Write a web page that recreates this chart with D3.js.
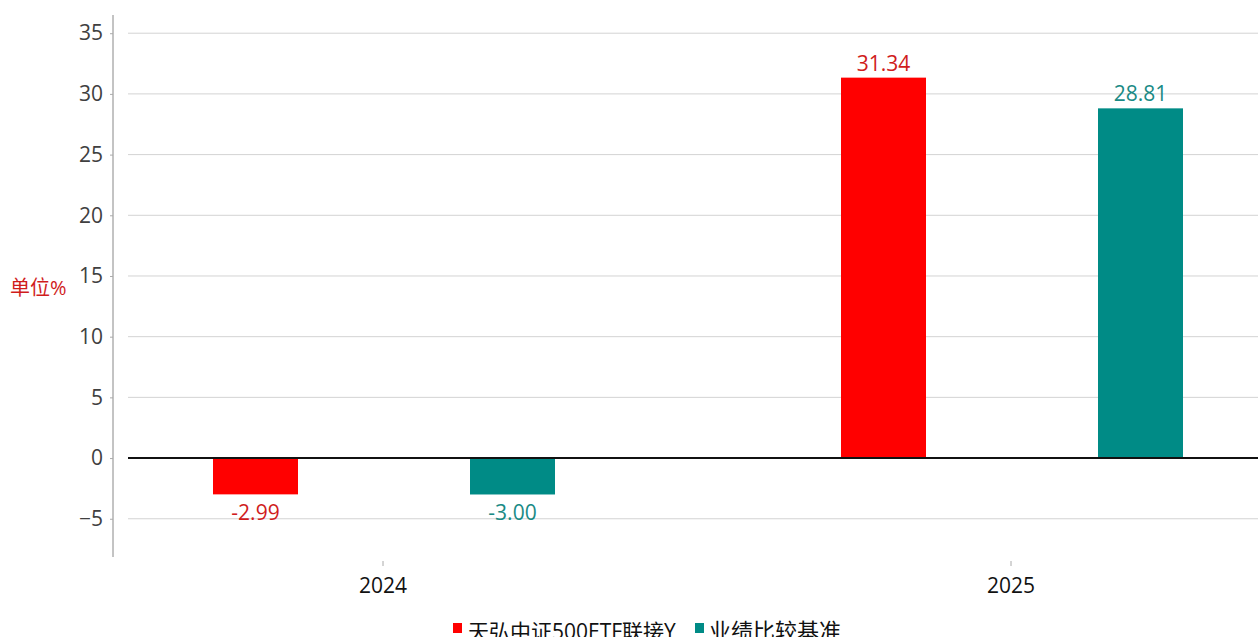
<!DOCTYPE html>
<html><head><meta charset="utf-8">
<script src="https://cdn.jsdelivr.net/npm/d3@7"></script>
<style>body{margin:0;background:#fff;}svg{display:block;font-family:"Open Sans","Noto Sans CJK SC",sans-serif;}</style>
</head><body><svg id="c" width="1258" height="637"></svg>
<script>
const categories = ["2024", "2025"];
const seriesNames = ["天弘中证500ETF联接Y", "业绩比较基准"];
const fundValues = [-2.99, 31.34];
const benchValues = [-3.00, 28.81];
const yTicks = [-5, 0, 5, 10, 15, 20, 25, 30, 35];
const barColors = ["#ff0000", "#008b86"];
const labelColors = ["#d01c1c", "#1a8a85"];

const svg = d3.select("#c");
const y = d3.scaleLinear().domain([-8.15, 36.5]).range([557, 15]);
const x0 = d3.scaleBand().domain(categories).range([69, 1325]);
const x1 = d3.scaleBand().domain(seriesNames).range([144, 486]).paddingInner(172/257).paddingOuter(0);

// gridlines
svg.append("g").selectAll("line").data(yTicks.filter(t => t !== 0)).join("line")
  .attr("x1", 128).attr("x2", 1258).attr("y1", d => y(d)).attr("y2", d => y(d))
  .attr("stroke", "#d3d3d3").attr("stroke-width", 1);

// y axis
const yAxis = svg.append("g").attr("transform", "translate(113,0)")
  .call(d3.axisLeft(y).tickValues(yTicks).tickSize(3).tickPadding(7));
yAxis.select(".domain").attr("stroke", "#888").attr("d", `M0,${y.range()[1]}V${y.range()[0]}`);
yAxis.selectAll(".tick line").attr("stroke", "#aaa");
yAxis.selectAll("text").attr("font-size", 21).attr("fill", "#404040")
  .attr("font-family", "'Open Sans',sans-serif");

// bars
const data = categories.map((c, i) => ({cat: c, vals: [fundValues[i], benchValues[i]]}));
const groups = svg.append("g").selectAll("g").data(data).join("g")
  .attr("transform", d => `translate(${x0(d.cat)},0)`);
groups.selectAll("rect").data(d => d.vals.map((v, j) => ({v, j}))).join("rect")
  .attr("x", d => x1(seriesNames[d.j])).attr("width", x1.bandwidth())
  .attr("y", d => y(Math.max(0, d.v))).attr("height", d => Math.abs(y(d.v) - y(0)))
  .attr("fill", d => barColors[d.j]);
groups.selectAll("text").data(d => d.vals.map((v, j) => ({v, j}))).join("text")
  .attr("x", d => x1(seriesNames[d.j]) + x1.bandwidth() / 2)
  .attr("y", d => d.v >= 0 ? y(d.v) - 7 : y(d.v) + 26)
  .attr("text-anchor", "middle").attr("font-size", 21)
  .attr("fill", d => labelColors[d.j]).text(d => d.v.toFixed(2));

// zero line
svg.append("line").attr("x1", 128).attr("x2", 1258).attr("y1", y(0)).attr("y2", y(0))
  .attr("stroke", "#111").attr("stroke-width", 2);

// x axis labels & tick marks
const xg = svg.append("g");
categories.forEach(c => {
  const cx = x0(c) + x0.bandwidth() / 2;
  xg.append("line").attr("x1", cx).attr("x2", cx).attr("y1", 561).attr("y2", 566).attr("stroke", "#aaa");
  xg.append("text").attr("x", cx).attr("y", 593).attr("text-anchor", "middle")
    .attr("font-size", 21).attr("fill", "#111").text(c);
});

// y unit label
svg.append("text").attr("x", 10).attr("y", 295).attr("font-size", 20).attr("fill", "#d01c1c").text("单位%");

// legend
const lg = svg.append("g");
lg.append("rect").attr("x", 453).attr("y", 623).attr("width", 9).attr("height", 10).attr("fill", barColors[0]);
lg.append("text").attr("x", 468).attr("y", 639).attr("font-size", 21).attr("fill", "#111").text(seriesNames[0]);
lg.append("rect").attr("x", 695).attr("y", 623).attr("width", 9).attr("height", 10).attr("fill", barColors[1]);
lg.append("text").attr("x", 709).attr("y", 639).attr("font-size", 22).attr("fill", "#111").text(seriesNames[1]);
</script></body></html>
